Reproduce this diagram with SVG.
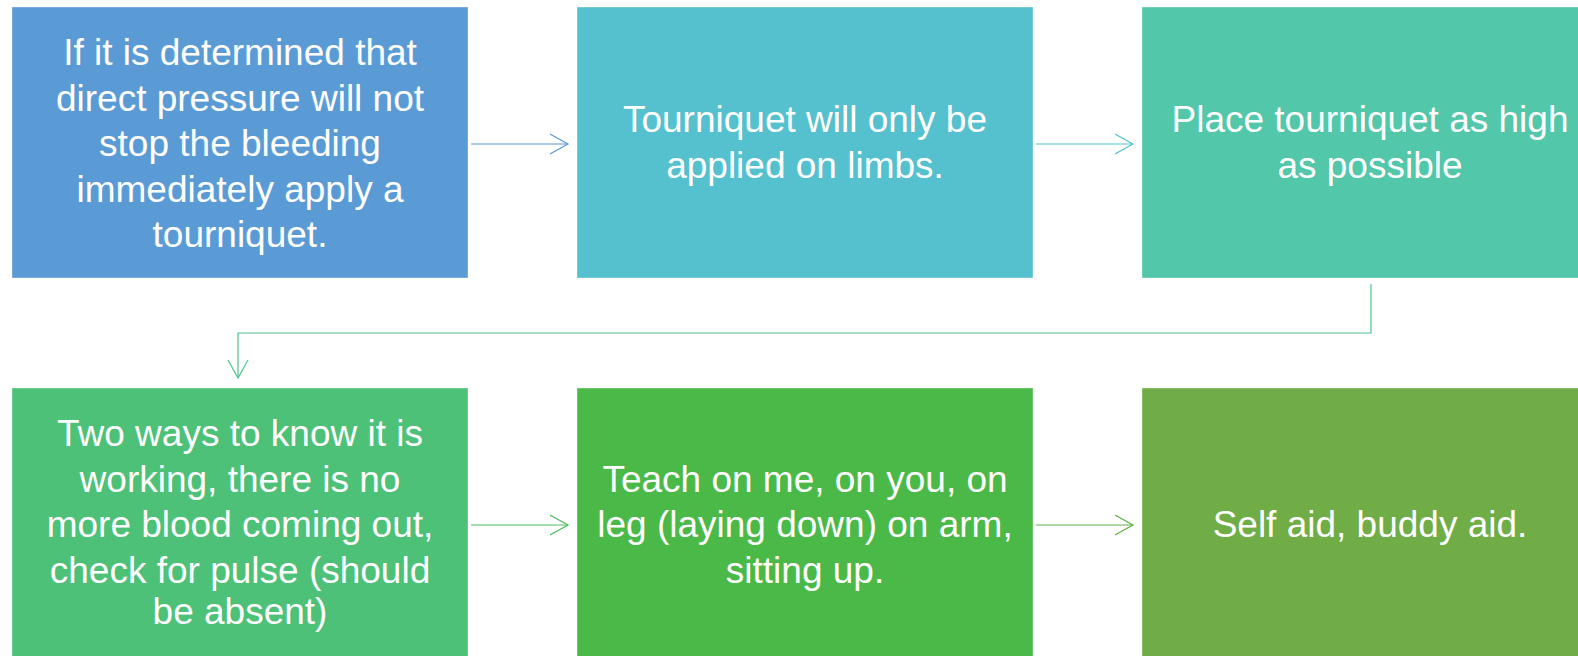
<svg xmlns="http://www.w3.org/2000/svg" width="1578" height="656" viewBox="0 0 1578 656">
<style>
.box{stroke:#ffffff;stroke-opacity:0.35;stroke-width:1}
.t{font-family:"Liberation Sans",Arial,sans-serif;font-size:37px;fill:#ffffff;text-anchor:middle}
.c{fill:none;stroke-width:1.2}
</style>
<defs>
<marker id="m1" markerUnits="userSpaceOnUse" markerWidth="20" markerHeight="22" refX="18" refY="11" orient="auto" viewBox="0 0 20 22"><path d="M0,1 L18,11 L0,21" fill="none" stroke="#5B9BD5" stroke-width="1.2"/></marker>
<marker id="m2" markerUnits="userSpaceOnUse" markerWidth="20" markerHeight="22" refX="18" refY="11" orient="auto" viewBox="0 0 20 22"><path d="M0,1 L18,11 L0,21" fill="none" stroke="#55C1CE" stroke-width="1.2"/></marker>
<marker id="m3" markerUnits="userSpaceOnUse" markerWidth="20" markerHeight="22" refX="18" refY="11" orient="auto" viewBox="0 0 20 22"><path d="M0,1 L18,11 L0,21" fill="none" stroke="#4FC48E" stroke-width="1.2"/></marker>
<marker id="m4" markerUnits="userSpaceOnUse" markerWidth="20" markerHeight="22" refX="18" refY="11" orient="auto" viewBox="0 0 20 22"><path d="M0,1 L18,11 L0,21" fill="none" stroke="#4CBD60" stroke-width="1.2"/></marker>
<marker id="m5" markerUnits="userSpaceOnUse" markerWidth="20" markerHeight="22" refX="18" refY="11" orient="auto" viewBox="0 0 20 22"><path d="M0,1 L18,11 L0,21" fill="none" stroke="#5FB347" stroke-width="1.2"/></marker>
</defs>
<rect width="1578" height="656" fill="#ffffff"/>
<g id="connectors">
<line class="c" x1="471" y1="144" x2="568" y2="144" stroke="#5B9BD5" marker-end="url(#m1)"/>
<line class="c" x1="1036" y1="144" x2="1133" y2="144" stroke="#55C1CE" marker-end="url(#m2)"/>
<polyline class="c" points="1371,284 1371,333 238,333 238,378" stroke="#4FC48E" marker-end="url(#m3)"/>
<line class="c" x1="471" y1="525" x2="568" y2="525" stroke="#4CBD60" marker-end="url(#m4)"/>
<line class="c" x1="1036" y1="525" x2="1133" y2="525" stroke="#5FB347" marker-end="url(#m5)"/>
</g>
<g id="node1">
<rect class="box" x="12" y="7" width="456" height="271" fill="#5B9BD5"/>
<text class="t" x="240" y="65">If it is determined that</text>
<text class="t" x="240" y="110.5">direct pressure will not</text>
<text class="t" x="240" y="156">stop the bleeding</text>
<text class="t" x="240" y="201.5">immediately apply a</text>
<text class="t" x="240" y="247">tourniquet.</text>
</g>
<g id="node2">
<rect class="box" x="577" y="7" width="456" height="271" fill="#55C1CE"/>
<text class="t" x="805" y="132">Tourniquet will only be</text>
<text class="t" x="805" y="177.5">applied on limbs.</text>
</g>
<g id="node3">
<rect class="box" x="1142" y="7" width="456" height="271" fill="#52C7A9"/>
<text class="t" x="1370" y="132">Place tourniquet as high</text>
<text class="t" x="1370" y="177.5">as possible</text>
</g>
<g id="node4">
<rect class="box" x="12" y="388" width="456" height="271" fill="#4DC177"/>
<text class="t" x="240" y="446">Two ways to know it is</text>
<text class="t" x="240" y="491.5">working, there is no</text>
<text class="t" x="240" y="537">more blood coming out,</text>
<text class="t" x="240" y="582.5">check for pulse (should</text>
<text class="t" x="240" y="624">be absent)</text>
</g>
<g id="node5">
<rect class="box" x="577" y="388" width="456" height="271" fill="#4BB947"/>
<text class="t" x="805" y="491.5">Teach on me, on you, on</text>
<text class="t" x="805" y="537">leg (laying down) on arm,</text>
<text class="t" x="805" y="582.5">sitting up.</text>
</g>
<g id="node6">
<rect class="box" x="1142" y="388" width="456" height="271" fill="#70AD47"/>
<text class="t" x="1370" y="537">Self aid, buddy aid.</text>
</g>
</svg>
